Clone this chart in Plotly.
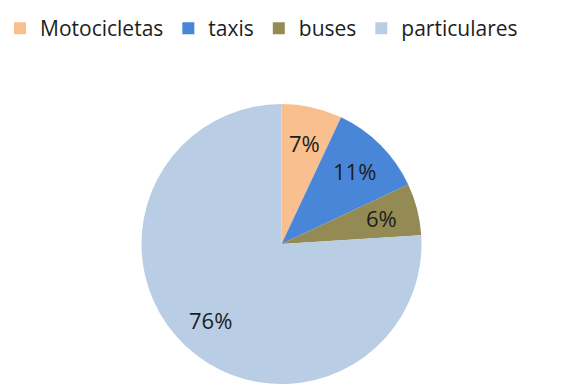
import numpy as np
import plotly.graph_objects as go

categorias = ["Motocicletas", "taxis", "buses", "particulares"]
porcentajes = [7, 11, 6, 76]
colores = ["#F9BF8F", "#4A86D8", "#948A54", "#B9CDE5"]

W, H = 564, 386
cx, cy, r = 281.5, 244, 140  # pie centre and radius in px (cy from top)

fig = go.Figure(
    go.Pie(
        labels=categorias,
        values=porcentajes,
        marker=dict(colors=colores, line=dict(width=0)),
        sort=False,
        direction="clockwise",
        rotation=0,
        textinfo="none",
        hoverinfo="label+percent",
        domain=dict(x=[(cx - r) / W, (cx + r) / W],
                    y=[(H - cy - r) / H, (H - cy + r) / H]),
    )
)

# percentage labels placed along each slice's mid-angle, clockwise from 12 o'clock
vals = np.array(porcentajes, dtype=float)
frac = vals / vals.sum()
mid = (np.cumsum(frac) - frac / 2) * 2 * np.pi
for v, a in zip(porcentajes, mid):
    d = 0.74 * r
    fig.add_annotation(
        x=(cx + d * np.sin(a)) / W,
        y=(H - cy + d * np.cos(a)) / H,
        xref="paper", yref="paper",
        xanchor="center", yanchor="middle",
        text=f"{v}%",
        showarrow=False,
        font=dict(family="Open Sans", size=22, color="#1d1d1d"),
    )

fig.update_layout(
    width=W,
    height=H,
    margin=dict(l=0, r=0, t=0, b=0),
    paper_bgcolor="white",
    plot_bgcolor="white",
    showlegend=True,
    legend=dict(
        orientation="h",
        x=0,
        y=0.979,
        xanchor="left",
        yanchor="top",
        font=dict(family="Open Sans", size=21, color="#1d1d1d"),
        traceorder="normal",
    ),
)

fig.write_html("out.html")
